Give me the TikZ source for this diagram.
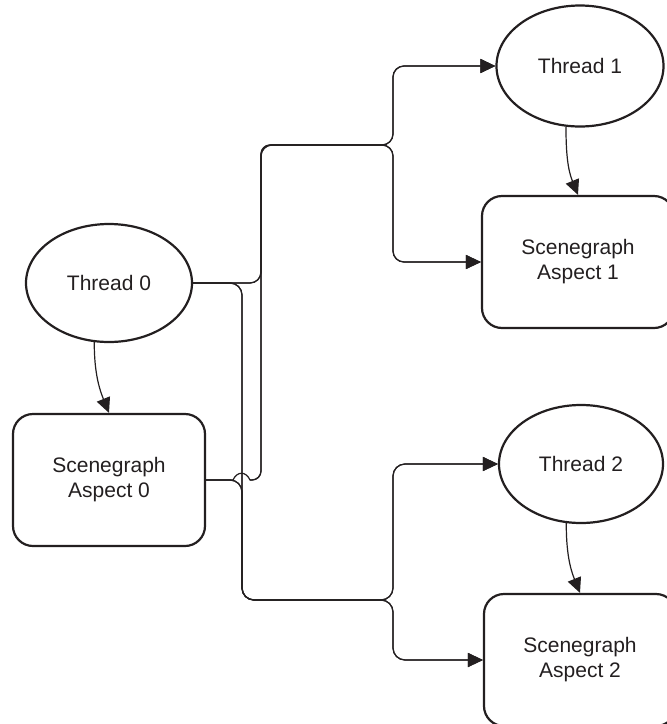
\documentclass[tikz,border=0pt]{standalone}
\usepackage{fontspec}
\setmainfont{Liberation Sans}
\usetikzlibrary{shapes.geometric,arrows.meta}
\definecolor{ink}{HTML}{231F20}
\tikzset{
  thread/.style={ellipse, draw=ink, line width=2.2pt, inner sep=0pt,
    minimum width=166pt, minimum height=118pt, text=ink,
    font=\fontsize{21}{25}\selectfont},
  aspect/.style={rectangle, rounded corners=20pt, draw=ink, line width=2.2pt,
    inner sep=0pt, minimum width=192pt, minimum height=132pt, text=ink,
    align=center, font=\fontsize{21}{25}\selectfont},
  wire/.style={draw=ink, line width=1.2pt, -{Triangle[length=15pt,width=14pt]}},
  link/.style={draw=ink, line width=1.2pt},
}
\begin{document}
\begin{tikzpicture}[x=1pt, y=-1pt]
  \path[use as bounding box] (0,0) rectangle (667,724);
  \clip (0,0) rectangle (667,724);

  % nodes
  \node[thread] (t0) at (109,283) {Thread 0};
  \node[aspect] (a0) at (109,480) {Scenegraph\\Aspect 0};
  \node[thread, minimum width=167pt, minimum height=121pt] (t1) at (580,66) {Thread 1};
  \node[aspect] (a1) at (578,262) {Scenegraph\\Aspect 1};
  \node[thread, minimum width=164pt] (t2) at (581,464) {Thread 2};
  \node[aspect] (a2) at (580,660) {Scenegraph\\Aspect 2};

  % bus corners
  \coordinate (busU) at (261,145);
  \coordinate (forkU) at (393,145);
  \coordinate (busD) at (242,600);
  \coordinate (forkD) at (393,600);
  \coordinate (hopA) at (233,480);
  \coordinate (hopB) at (250,480);

  % thread -> own aspect
  \draw[wire] (t0.256) to[out=-90, in=112] (a0.north);
  \draw[wire] (t1.257) to[out=-90, in=112] (a1.north);
  \draw[wire] (t2.256) to[out=-90, in=112] (a2.north);

  % Thread 0 fan-out
  \draw[wire, rounded corners=11pt] (t0.east) -| (busU) -- (forkU) |- (t1.west);
  \draw[wire, rounded corners=11pt] (t0.east) -| (busU) -- (forkU) |- (a1.west);
  \draw[wire, rounded corners=12pt] (t0.east) -| (busD) -- (forkD) |- (t2.west);
  \draw[wire, rounded corners=12pt] (t0.east) -| (busD) -- (forkD) |- (a2.west);

  % Aspect 0 fan-out (upper branch hops over the lower bus)
  \draw[wire, rounded corners=12pt] (a0.east) -| (busD) -- (forkD) |- (t2.west);
  \draw[wire, rounded corners=12pt] (a0.east) -| (busD) -- (forkD) |- (a2.west);
  \draw[wire] (a0.east) -- (hopA) .. controls (237,471) and (246,471) .. (hopB)
    [rounded corners=9pt] -| (busU) [rounded corners=11pt] -- (forkU) |- (t1.west);
  \draw[wire] (hopB) [rounded corners=9pt] -| (busU) [rounded corners=11pt] -- (forkU) |- (a1.west);
\end{tikzpicture}
\end{document}
